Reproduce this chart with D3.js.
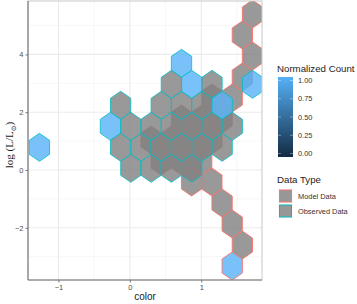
<!DOCTYPE html>
<html>
<head>
<meta charset="utf-8">
<script src="https://cdn.jsdelivr.net/npm/d3@7"></script>
<style>
  body { margin: 0; background: #fff; }
  svg { display: block; }
</style>
</head>
<body>
<div id="chart"></div>
<script>
// observed hex bins (centres in data units), count null = NA
const obsX = [0.723, 0.581, 0.866, 1.150, 1.718,
              -0.130, 0.439, 0.723, 1.008, 1.292,
              -0.272, 0.013, 0.297, 0.581, 0.866, 1.150, 1.434,
              -1.267, -0.130, 0.155, 0.439, 0.723, 1.008, 1.292,
              0.013, 0.297, 0.581, 0.866];
const obsY = [3.692, 2.965, 2.965, 2.965, 2.965,
              2.239, 2.239, 2.239, 2.239, 2.239,
              1.512, 1.512, 1.512, 1.512, 1.512, 1.512, 1.512,
              0.785, 0.785, 0.785, 0.785, 0.785, 0.785, 0.785,
              0.059, 0.059, 0.059, 0.059];
const obsCount = [1, null, 1, null, 1,
                  null, null, null, null, 1,
                  1, null, null, null, null, null, null,
                  1, null, null, null, null, null, null,
                  null, null, null, null];

// model hex bins
const modX = [1.717, 1.575, 1.717, 1.575, 1.433, 1.148,
              1.291, 1.006, 0.722,
              0.296, 0.580, 0.864, 1.148,
              0.438, 0.722, 1.006,
              0.864, 1.148, 1.291, 1.433, 1.575, 1.433];
const modY = [5.398, 4.671, 3.945, 3.218, 2.491, 2.491,
              1.765, 1.765, 1.765,
              1.038, 1.038, 1.038, 1.038,
              0.311, 0.311, 0.311,
              -0.415, -0.415, -1.142, -1.869, -2.595, -3.322];
const modCount = [null, null, null, null, null, null,
                  null, null, null,
                  null, null, null, null,
                  null, null, null,
                  null, null, null, null, null, 1];

const binW = 0.2843;   // column spacing
const binR = 0.4844;   // centre to top vertex

const xMajor = [-1, 0, 1];
const xMinor = [-0.5, 0.5, 1.5];
const yMajor = [-2, 0, 2, 4];
const yMinor = [-3, -1, 1, 3, 5];
const legendTicks = [0, 0.25, 0.5, 0.75, 1];
const typeLabels = ["Model Data", "Observed Data"];
const typeColors = ["#F8766D", "#00BFC4"];

const W = 357, H = 304;
const panel = {left: 28, right: 262, top: 1, bottom: 280};

const svg = d3.select("#chart").append("svg")
    .attr("width", W).attr("height", H);

const x = d3.scaleLinear().domain([-1.427, 1.850]).range([panel.left, panel.right]);
const y = d3.scaleLinear().domain([-3.806, 5.848]).range([panel.bottom, panel.top]);

const fill = d3.scaleLinear().domain([0, 1]).range(["#132B43", "#56B1F7"]);
const fillOf = c => c == null ? "#7F7F7F" : fill(c);
const alpha = 0.8;

const font = "'Liberation Sans', Arial, Helvetica, sans-serif";

svg.append("defs").append("clipPath").attr("id", "clip")
    .append("rect")
    .attr("x", panel.left).attr("y", panel.top)
    .attr("width", panel.right - panel.left)
    .attr("height", panel.bottom - panel.top);

// grid
const grid = svg.append("g");
grid.selectAll(".gx-minor").data(xMinor).enter().append("line")
    .attr("x1", d => x(d)).attr("x2", d => x(d))
    .attr("y1", panel.top).attr("y2", panel.bottom)
    .attr("stroke", "#F2F2F2").attr("stroke-width", 0.6);
grid.selectAll(".gy-minor").data(yMinor).enter().append("line")
    .attr("x1", panel.left).attr("x2", panel.right)
    .attr("y1", d => y(d)).attr("y2", d => y(d))
    .attr("stroke", "#F2F2F2").attr("stroke-width", 0.6);
grid.selectAll(".gx-major").data(xMajor).enter().append("line")
    .attr("x1", d => x(d)).attr("x2", d => x(d))
    .attr("y1", panel.top).attr("y2", panel.bottom)
    .attr("stroke", "#EBEBEB").attr("stroke-width", 1.1);
grid.selectAll(".gy-major").data(yMajor).enter().append("line")
    .attr("x1", panel.left).attr("x2", panel.right)
    .attr("y1", d => y(d)).attr("y2", d => y(d))
    .attr("stroke", "#EBEBEB").attr("stroke-width", 1.1);

// hexagon path from data centre
function hexPath(cx, cy) {
    const pts = [
        [cx, cy + binR],
        [cx + binW / 2, cy + binR / 2],
        [cx + binW / 2, cy - binR / 2],
        [cx, cy - binR],
        [cx - binW / 2, cy - binR / 2],
        [cx - binW / 2, cy + binR / 2]
    ];
    return "M" + pts.map(p => x(p[0]) + "," + y(p[1])).join("L") + "Z";
}

const modData = modX.map((d, i) => ({x: d, y: modY[i], c: modCount[i]}));
const obsData = obsX.map((d, i) => ({x: d, y: obsY[i], c: obsCount[i]}));

const hexG = svg.append("g").attr("clip-path", "url(#clip)");
hexG.selectAll(".mod").data(modData).enter().append("path")
    .attr("d", d => hexPath(d.x, d.y))
    .attr("fill", d => fillOf(d.c))
    .attr("fill-opacity", alpha)
    .attr("stroke", typeColors[0])
    .attr("stroke-opacity", 0.9)
    .attr("stroke-width", 1);
hexG.selectAll(".obs").data(obsData).enter().append("path")
    .attr("d", d => hexPath(d.x, d.y))
    .attr("fill", d => fillOf(d.c))
    .attr("fill-opacity", alpha)
    .attr("stroke", typeColors[1])
    .attr("stroke-opacity", 0.8)
    .attr("stroke-width", 1);

// panel border
svg.append("rect")
    .attr("x", panel.left).attr("y", panel.top)
    .attr("width", panel.right - panel.left)
    .attr("height", panel.bottom - panel.top)
    .attr("fill", "none").attr("stroke", "#C8C8C8").attr("stroke-width", 1);

// axes
const xAxis = svg.append("g")
    .attr("transform", "translate(0," + panel.bottom + ")")
    .call(d3.axisBottom(x).tickValues(xMajor).tickSize(2.5).tickPadding(2).tickFormat(d3.format("d")));
const yAxis = svg.append("g")
    .attr("transform", "translate(" + panel.left + ",0)")
    .call(d3.axisLeft(y).tickValues(yMajor).tickSize(2.5).tickPadding(2).tickFormat(d3.format("d")));
[xAxis, yAxis].forEach(a => {
    a.style("color", "#4D4D4D");
    a.select(".domain").attr("stroke", "#777").attr("stroke-width", 1.1);
    a.selectAll(".tick line").attr("stroke", "#777");
    a.selectAll("text").attr("fill", "#4D4D4D")
        .style("font-family", font).style("font-size", "7.5px");
});
xAxis.selectAll(".domain").attr("d", "M" + panel.left + ",0H" + panel.right);
yAxis.selectAll(".domain").attr("d", "M0," + panel.top + "V" + panel.bottom);

// axis titles
svg.append("text")
    .attr("x", (panel.left + panel.right) / 2).attr("y", 300)
    .attr("text-anchor", "middle")
    .style("font-family", font).style("font-size", "10px")
    .attr("fill", "#222")
    .text("color");

const yt = svg.append("text")
    .attr("transform", "translate(13," + 145 + ") rotate(-90)")
    .attr("text-anchor", "middle")
    .style("font-family", "'Liberation Serif', 'DejaVu Serif', serif")
    .style("font-size", "11px")
    .attr("fill", "#222");
yt.append("tspan").text("log (L/L");
yt.append("tspan").attr("dy", 2.5).style("font-size", "7px")
    .style("font-family", "'DejaVu Serif', serif").text("\u2299");
yt.append("tspan").attr("dy", -2.5).text(")");

// colour bar legend
const leg = svg.append("g");
leg.append("text").attr("x", 277).attr("y", 72)
    .style("font-family", font).style("font-size", "9.7px").attr("fill", "#222")
    .text("Normalized Count");

const grad = svg.select("defs").append("linearGradient")
    .attr("id", "cbar").attr("x1", 0).attr("y1", 1).attr("x2", 0).attr("y2", 0);
grad.append("stop").attr("offset", "0%").attr("stop-color", fill(0));
grad.append("stop").attr("offset", "100%").attr("stop-color", fill(1));

const cb = d3.scaleLinear().domain([0, 1]).range([153.5, 80.5]);
leg.append("rect").attr("x", 278).attr("y", 77).attr("width", 15).attr("height", 80)
    .attr("fill", "url(#cbar)");
leg.selectAll(".cbt-l").data(legendTicks).enter().append("line")
    .attr("x1", 278).attr("x2", 281).attr("y1", d => cb(d)).attr("y2", d => cb(d))
    .attr("stroke", "#fff").attr("stroke-opacity", 0.6).attr("stroke-width", 0.6);
leg.selectAll(".cbt-r").data(legendTicks).enter().append("line")
    .attr("x1", 290).attr("x2", 293).attr("y1", d => cb(d)).attr("y2", d => cb(d))
    .attr("stroke", "#fff").attr("stroke-opacity", 0.6).attr("stroke-width", 0.6);
leg.selectAll(".cbl").data(legendTicks).enter().append("text")
    .attr("x", 298).attr("y", d => cb(d) + 2.6)
    .style("font-family", font).style("font-size", "7.4px").attr("fill", "#333")
    .text(d => d3.format(".2f")(d));

// data type legend
leg.append("text").attr("x", 277).attr("y", 183)
    .style("font-family", font).style("font-size", "9.7px").attr("fill", "#222")
    .text("Data Type");
typeLabels.forEach((t, i) => {
    const ky = 188.5 + i * 15;
    leg.append("rect").attr("x", 278.5).attr("y", ky + 0.5).attr("width", 14).attr("height", 14)
        .attr("fill", "#F2F2F2");
    leg.append("rect").attr("x", 279.5).attr("y", ky + 1.5).attr("width", 12).attr("height", 12)
        .attr("fill", "#7F7F7F").attr("fill-opacity", alpha)
        .attr("stroke", typeColors[i]).attr("stroke-width", 1);
    leg.append("text").attr("x", 298).attr("y", ky + 10.5)
        .style("font-family", font).style("font-size", "7.4px").attr("fill", "#333")
        .text(t);
});
</script>
</body>
</html>
